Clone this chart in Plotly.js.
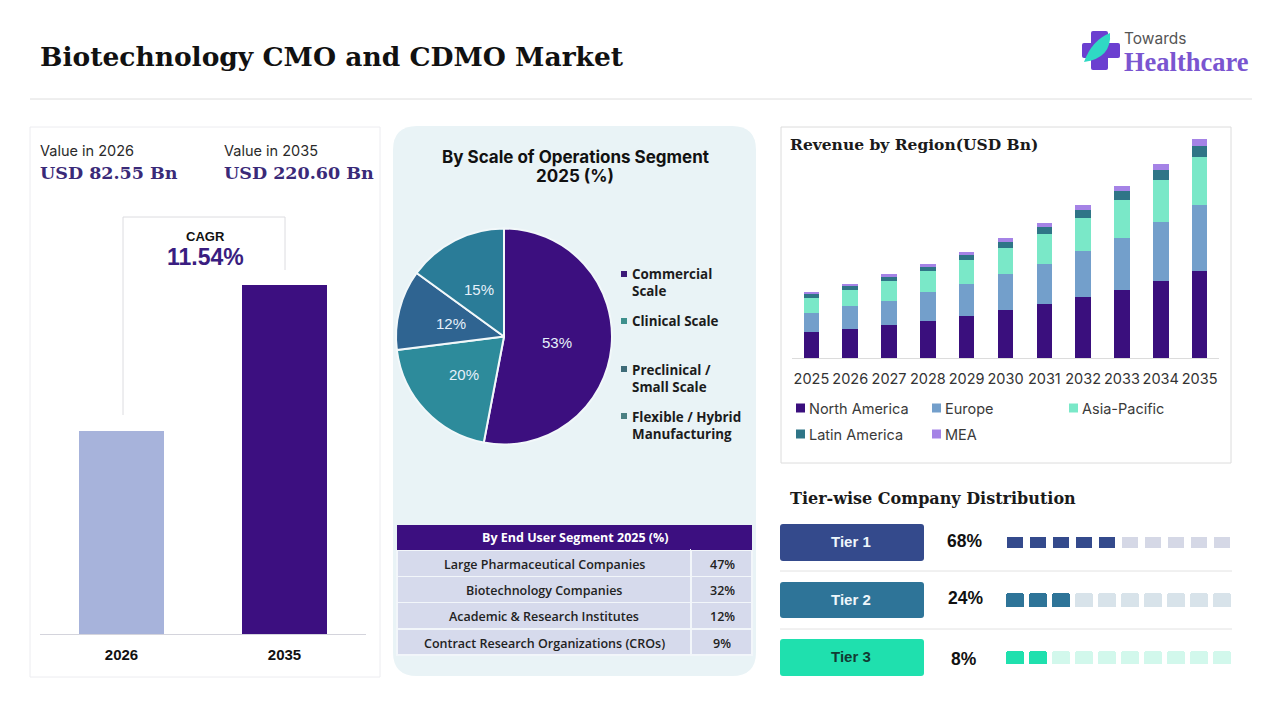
<!DOCTYPE html>
<html><head><meta charset="utf-8">
<script src="https://cdn.plot.ly/plotly-3.0.1.min.js"></script>
<style>html,body{margin:0;padding:0;background:#fff;overflow:hidden}#c{width:1280px;height:720px}</style>
</head><body><div id="c"></div>
<script>
// ---- data ----
const headlineYears = ['2026', '2035'];
// Heights as drawn in the reference: the picture's bars are not proportional to the USD labels.
const headlineHeights = [128.4, 220.6];
const years = ['2025','2026','2027','2028','2029','2030','2031','2032','2033','2034','2035'];
const northAmerica = [25.9,28.9,32.9,37.0,42.0,48.0,54.1,61.2,68.2,77.3,87.4];
const europe       = [19.5,23.2,24.5,29.2,32.3,36.3,40.3,46.4,52.4,59.5,66.5];
const asiaPacific  = [14.8,16.1,19.8,21.2,24.2,26.2,30.2,33.3,38.3,42.3,48.4];
const latinAmerica = [4.0,4.0,4.0,4.0,5.0,6.0,7.1,8.1,9.1,10.1,11.1];
const mea          = [2.0,2.0,3.0,3.0,3.0,4.0,4.0,5.0,5.0,6.0,7.1];
const scaleLabels = ['Commercial Scale','Clinical Scale','Preclinical / Small Scale','Flexible / Hybrid Manufacturing'];
const scaleValues = [53,20,12,15];
const endUsers = ['Large Pharmaceutical Companies','Biotechnology Companies','Academic & Research Institutes','Contract Research Organizations (CROs)'];
const endUserShares = ['47%','32%','12%','9%'];
const tierNames = ['Tier 1','Tier 2','Tier 3'];
const tierShares = ['68%','24%','8%'];
const tierFilledCells = [5,3,2];
const cellIndex = [1,2,3,4,5,6,7,8,9,10];

// ---- helpers: pixel -> paper ----
const X = p => p/1280, Y = p => 1-p/720;
const SERIF='"DejaVu Serif",serif', LIBSERIF='"Liberation Serif",serif', SANS='"Liberation Sans",sans-serif', OPEN='"Open Sans",sans-serif', INTER='Inter,sans-serif';
const shapes=[], annotations=[];
function rect(x0,y0,x1,y1,fill,line,lw){shapes.push({type:'rect',xref:'paper',yref:'paper',layer:'below',x0:X(x0),x1:X(x1),y0:Y(y0),y1:Y(y1),fillcolor:fill||'rgba(0,0,0,0)',line:{color:line||'rgba(0,0,0,0)',width:lw||0}});}
function seg(x0,y0,x1,y1,c,w){shapes.push({type:'line',xref:'paper',yref:'paper',layer:'below',x0:X(x0),x1:X(x1),y0:Y(y0),y1:Y(y1),line:{color:c,width:w||1}});}
function path(d,fill){shapes.push({type:'path',xref:'paper',yref:'paper',layer:'below',path:d,fillcolor:fill,line:{width:0}});}
function P(a,b){return X(a)+','+Y(b);}
function rrect(x0,y0,x1,y1,r,fill){path('M'+P(x0+r,y0)+' L'+P(x1-r,y0)+' Q'+P(x1,y0)+' '+P(x1,y0+r)+' L'+P(x1,y1-r)+' Q'+P(x1,y1)+' '+P(x1-r,y1)+' L'+P(x0+r,y1)+' Q'+P(x0,y1)+' '+P(x0,y1-r)+' L'+P(x0,y0+r)+' Q'+P(x0,y0)+' '+P(x0+r,y0)+' Z',fill);}
function txt(t,x,y,size,color,family,opts){annotations.push(Object.assign({text:t,xref:'paper',yref:'paper',x:X(x),y:Y(y),xanchor:'left',yanchor:'middle',showarrow:false,align:'left',borderpad:0,font:{size:size,color:color,family:family}},opts||{}));}
const mid={xanchor:'center',align:'center'};

// ---- header ----
txt('<b>Biotechnology CMO and CDMO Market</b>',38.5,57,26.5,'#111',SERIF);
seg(30,99,1252,99,'#dedede',1);
// logo
rrect(1091,31,1108,70,2,'#6b3fd0'); rrect(1082,43,1120,58,2,'#6b3fd0');
path('M'+P(1110,33)+' Q'+P(1112,58)+' '+P(1084,62)+' Q'+P(1092,40)+' '+P(1110,33)+' Z','#2fd9c4');
txt('Towards',1123,38,15.5,'#555',INTER);
txt('<b>Healthcare</b>',1123,62,26.5,'#7a55d0',LIBSERIF);

// ---- left panel ----
rect(30,127,380,677,'#fff','#ececf0',1);
txt('Value in 2026',38.5,150,14.5,'#2a2a2a',INTER);
txt('Value in 2035',222.5,150,14.5,'#2a2a2a',INTER);
txt('<b>USD 82.55 Bn</b>',38.5,173,17.5,'#3a2a78',SERIF);
txt('<b>USD 220.60 Bn</b>',222.5,173,17.5,'#3a2a78',SERIF);
seg(123,217,285,217,'#dcdce0',1); seg(123,217,123,415,'#dcdce0',1); seg(285,217,285,270,'#dcdce0',1);
txt('<b>CAGR</b>',205,237,13,'#111',SANS,mid);
txt('<b>11.54%</b>',205,257,23,'#3a1d80',SANS,mid);

// ---- centre panel ----
rrect(393,126,756,676,24,'#e9f3f6');
txt('<b>By Scale of Operations Segment</b>',575,157,17,'#111',INTER,mid);
txt('<b>2025 (%)</b>',575,176,17,'#111',INTER,mid);
const pieColors=['#3c0f7f','#2d8b9b','#2f6491','#2a7c98'];
const legendSquares=['#3c1a78','#3d8f8c','#3e6b78','#4a7f82'];
[[274,283,'Commercial<br>Scale'],[321,321,'Clinical Scale'],[369,378,'Preclinical /<br>Small Scale'],[416,425,'Flexible / Hybrid<br>Manufacturing']].forEach((r,i)=>{
  rect(621,r[0]-3,627,r[0]+3,legendSquares[i]);
  txt('<b>'+r[2]+'</b>',630.5,r[1],13.4,'#1c1c1c',OPEN);
});
// pie percentage labels (text from the values, placed as in the reference)
[[557,342],[464,374],[451,323],[479,289]].forEach((p,i)=>{
  txt(scaleValues[i]+'%',p[0],p[1],15,'#e6f1fb',SANS,mid);
});
// table text
txt('<b>By End User Segment 2025 (%)</b>',575,537,12.5,'#fff',OPEN,mid);
[564,590,616,643].forEach((y,i)=>{
  const f={xanchor:'center',align:'center'};
  txt(endUsers[i],544,y,12.5,'#222',OPEN,f);
  txt(endUserShares[i],722,y,12.5,'#222',OPEN,f);
  annotations[annotations.length-1].font.weight=600;
  annotations[annotations.length-2].font.weight=600;
});

// ---- right-top panel ----
rect(781,127,1231,463,'#fff','#dcdcdc',1);
txt('<b>Revenue by Region(USD Bn)</b>',789,145,15.5,'#1a1a1a',SERIF);
const regionColors=['#3a0f7d','#739fcb','#7ae8c8','#2f7587','#a583e6'];
const regionNames=['North America','Europe','Asia-Pacific','Latin America','MEA'];
[[796,408],[932,408],[1069,408],[796,434],[932,434]].forEach((p,i)=>{
  rect(p[0],p[1]-4.5,p[0]+9,p[1]+4.5,regionColors[i]);
  txt(regionNames[i],p[0]+12,p[1],14.5,'#3a3a3a',INTER);
});

// ---- tiers ----
txt('<b>Tier-wise Company Distribution</b>',789,498,16,'#1a1a1a',SERIF);
seg(780,571,1232,571,'#e2e2e2',1); seg(780,629,1232,629,'#e2e2e2',1);
const tierColors=['#344a8c','#2e7498','#1fe0ae'];
const tierPale=['#d5d8e6','#d8e3ea','#d2f8ec'];
const tierRows=[[524,561,541,541,537,548,964],[582,618,599,598,593,607,965],[639,676,656,659,651,664,964]];
tierRows.forEach((r,i)=>{
  rrect(780,r[0],924,r[1],3,tierColors[i]);
  txt('<b>'+tierNames[i]+'</b>',851,r[2],15,i==2?'#123b33':'#eef6fb',SANS,mid);
  txt('<b>'+tierShares[i]+'</b>',r[6],r[3],17.5,'#111',SANS,mid);
});

// ---- traces ----
const traces=[];
traces.push({type:'bar',x:headlineYears,y:headlineHeights,width:0.525,marker:{color:['#a7b3db','#3c0f80']},xaxis:'x',yaxis:'y',hoverinfo:'x'});
[northAmerica,europe,asiaPacific,latinAmerica,mea].forEach((v,i)=>traces.push({type:'bar',name:regionNames[i],x:years,y:v,width:0.4,marker:{color:regionColors[i]},xaxis:'x2',yaxis:'y2'}));
traces.push({type:'pie',labels:scaleLabels,values:scaleValues,sort:false,direction:'clockwise',rotation:0,
  domain:{x:[X(396),X(612)],y:[Y(444.5),Y(228.5)]},marker:{colors:pieColors,line:{color:'#f2f8fa',width:2}},
  textinfo:'none',showlegend:false});
traces.push({type:'table',domain:{x:[X(397),X(752.5)],y:[Y(660),Y(525)]},columnwidth:[294,61],
  header:{values:['',''],height:25,fill:{color:'#3c0f80'},line:{color:'#3c0f80',width:0}},
  cells:{values:[endUsers.map(()=>''),endUserShares.map(()=>'')],height:26.3,align:'center',fill:{color:'#d6daec'},line:{color:'#f2f6fa',width:1.5},
    font:{size:12.5,color:'#222',family:OPEN}}});
tierFilledCells.forEach((n,i)=>traces.push({type:'bar',x:cellIndex,y:cellIndex.map(()=>1),width:i==0?0.7:0.78,
  marker:{color:cellIndex.map(c=>c<=n?tierColors[i]:tierPale[i]),cornerradius:i==0?1:3},xaxis:'x'+(i+3),yaxis:'y'+(i+3),hoverinfo:'skip'}));

const layout={width:1280,height:720,margin:{l:0,r:0,t:0,b:0},paper_bgcolor:'#fff',plot_bgcolor:'rgba(0,0,0,0)',showlegend:false,barmode:'stack',shapes,annotations,
  xaxis:{domain:[X(40),X(366)],type:'category',range:[-0.5,1.5],showgrid:false,showline:true,linecolor:'#d4d4dc',linewidth:1,zeroline:false,ticks:'outside',ticklen:7,tickcolor:'rgba(0,0,0,0)',tickfont:{size:15,color:'#111',family:SANS,weight:700}},
  yaxis:{domain:[Y(634),Y(285)],range:[0,220.6],visible:false},
  xaxis2:{domain:[X(792),X(1219)],type:'category',range:[-0.5,10.5],showgrid:false,showline:true,linecolor:'#dcdcdc',linewidth:1,zeroline:false,ticks:'outside',ticklen:8,tickcolor:'rgba(0,0,0,0)',tickangle:0,tickfont:{size:14.5,color:'#333',family:INTER},anchor:'y2'},
  yaxis2:{domain:[Y(358),Y(139)],range:[0,220.5],visible:false,anchor:'x2'}
};
tierRows.forEach((r,i)=>{
  const k=i+3;
  layout['xaxis'+k]={domain:[X(1003.5),X(1233.5)],range:[0.5,10.5],visible:false,anchor:'y'+k};
  layout['yaxis'+k]={domain:[Y(r[5]),Y(r[4])],range:[0,1],visible:false,anchor:'x'+k};
});
Plotly.newPlot('c',traces,layout,{displayModeBar:false,staticPlot:true});
</script></body></html>
